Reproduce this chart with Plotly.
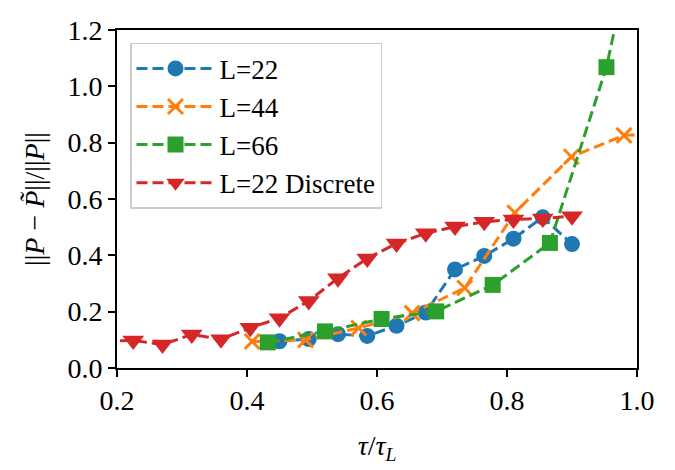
import plotly.graph_objects as go

# data
blue_x = [0.45, 0.495, 0.54, 0.585, 0.63, 0.675, 0.72, 0.765, 0.81, 0.855, 0.90]
blue_y = [0.095, 0.103, 0.120, 0.114, 0.150, 0.197, 0.350, 0.398, 0.459, 0.535, 0.440]

orange_x = [0.408, 0.490, 0.572, 0.654, 0.735, 0.812, 0.899, 0.980, 1.062]
orange_y = [0.094, 0.100, 0.142, 0.195, 0.284, 0.551, 0.750, 0.826, 0.830]

green_x = [0.432, 0.520, 0.607, 0.691, 0.778, 0.866, 0.953, 1.040]
green_y = [0.091, 0.130, 0.174, 0.201, 0.295, 0.444, 1.068, 2.0]

red_x = [0.18, 0.225, 0.27, 0.315, 0.36, 0.405, 0.45, 0.495, 0.54, 0.585,
         0.63, 0.675, 0.72, 0.765, 0.81, 0.855, 0.90]
red_y = [0.095, 0.098, 0.083, 0.119, 0.102, 0.143, 0.177, 0.238, 0.319, 0.389,
         0.442, 0.478, 0.502, 0.519, 0.527, 0.531, 0.539]

labels = ["L=22", "L=44", "L=66", "L=22 Discrete"]
colors = ["#1f77b4", "#ff7f0e", "#2ca02c", "#d62728"]

FONT = "Liberation Serif"
DASH = "11px,5px"

fig = go.Figure()
fig.add_trace(go.Scatter(x=blue_x, y=blue_y, name=labels[0], mode="lines+markers",
                         line=dict(color=colors[0], width=3, dash=DASH),
                         marker=dict(symbol="circle", size=16, color=colors[0])))
fig.add_trace(go.Scatter(x=orange_x, y=orange_y, name=labels[1], mode="lines+markers",
                         line=dict(color=colors[1], width=3, dash=DASH),
                         marker=dict(symbol="x-thin", size=15, color=colors[1],
                                     line=dict(color=colors[1], width=3))))
fig.add_trace(go.Scatter(x=green_x, y=green_y, name=labels[2], mode="lines+markers",
                         line=dict(color=colors[2], width=3, dash=DASH),
                         marker=dict(symbol="square", size=16, color=colors[2])))
fig.add_trace(go.Scatter(x=red_x, y=red_y, name=labels[3], mode="lines+markers",
                         line=dict(color=colors[3], width=3, dash=DASH),
                         marker=dict(symbol="triangle-down", size=19, color=colors[3])))

axis_common = dict(
    showline=True, linecolor="black", linewidth=1.6, mirror=True,
    ticks="outside", ticklen=7, tickwidth=1.6, tickcolor="black",
    showgrid=False, zeroline=False,
    tickfont=dict(family=FONT, size=28, color="black"),
)

fig.update_xaxes(range=[0.2, 1.0], tickvals=[0.2, 0.4, 0.6, 0.8, 1.0],
                 ticktext=["0.2", "0.4", "0.6", "0.8", "1.0"],
                 title=dict(text="<i>τ</i>/<i>τ</i><sub><i>L</i></sub>",
                            font=dict(family=FONT, size=28, color="black"), standoff=20),
                 **axis_common)
fig.update_yaxes(range=[0.0, 1.2], tickvals=[0.0, 0.2, 0.4, 0.6, 0.8, 1.0, 1.2],
                 ticktext=["0.0", "0.2", "0.4", "0.6", "0.8", "1.0", "1.2"],
                 title=dict(text="||<i>P</i> − <i>P̃</i>||/||<i>P</i>||",
                            font=dict(family=FONT, size=28, color="black"), standoff=15),
                 **axis_common)

fig.update_layout(
    width=675, height=470,
    margin=dict(l=109, r=45.5, t=22, b=109.7, autoexpand=False),
    plot_bgcolor="white", paper_bgcolor="white",
    font=dict(family=FONT, size=27, color="black"),
    legend=dict(x=0.025, y=0.962, xanchor="left", yanchor="top",
                bgcolor="rgba(255,255,255,0.8)", bordercolor="#cccccc", borderwidth=1.5,
                font=dict(family=FONT, size=27, color="black"),
                itemwidth=78, tracegroupgap=0),
    showlegend=True,
)

fig.write_html("out.html")
